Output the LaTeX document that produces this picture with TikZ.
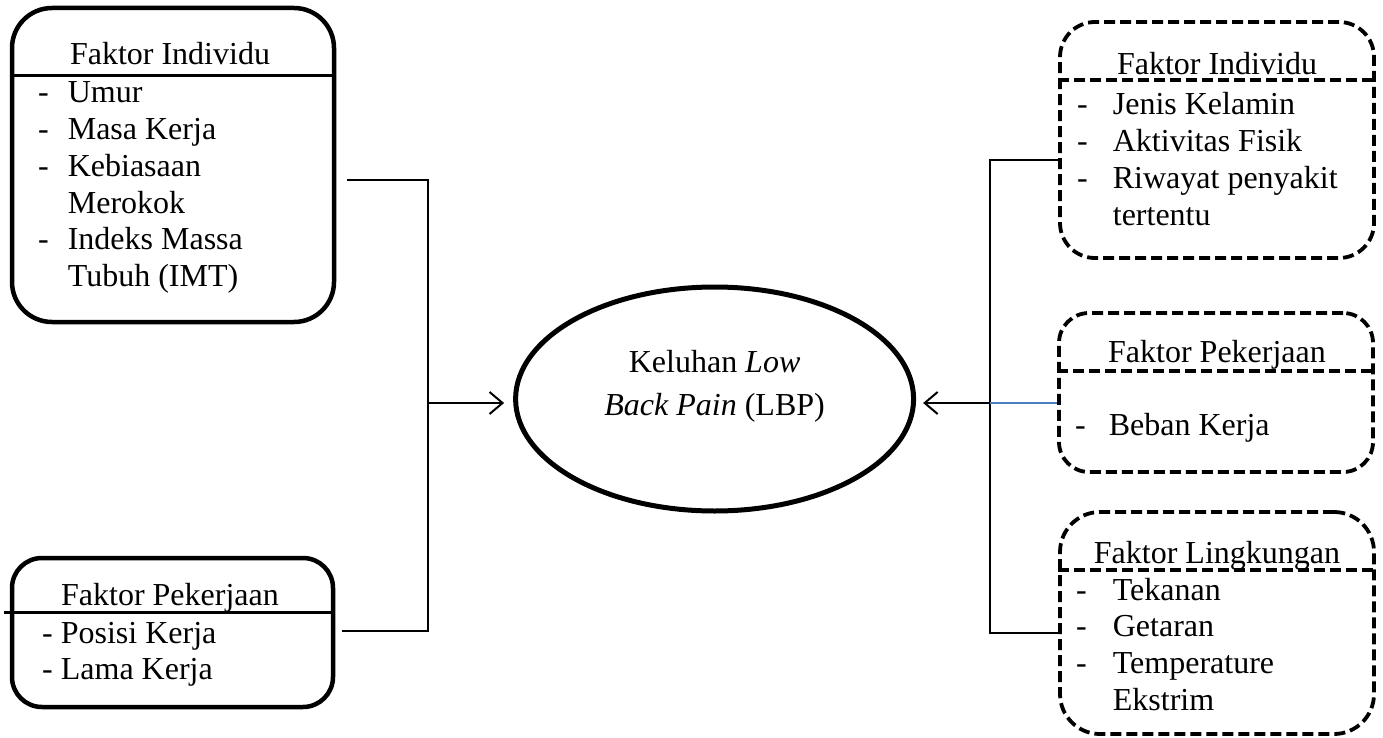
\documentclass[tikz,border=0pt]{standalone}
\usepackage{fontspec}
\setmainfont{Liberation Serif}
\usetikzlibrary{arrows.meta,shapes.geometric}

\tikzset{
  txt/.style={inner sep=0pt, font=\fontsize{32}{36.7}\selectfont},
  solidbox/.style={draw, line width=4.5pt, rounded corners=#1, inner sep=0pt},
  solidbox/.default=40pt,
  dashbox/.style={draw, line width=3.8pt, dash pattern=on 11pt off 5pt, rounded corners=#1, inner sep=0pt},
  dashbox/.default=35pt,
  solidsep/.style={line width=3pt},
  dashsep/.style={line width=3.6pt, dash pattern=on 11pt off 5pt},
  conn/.style={line width=2pt},
  bluelink/.style={line width=1.6pt, draw={rgb,255:red,74;green,126;blue,187}},
  arr/.style={conn, -{Straight Barb[length=13pt,width=22pt,line width=2pt]}},
}

\begin{document}
\begin{tikzpicture}[x=1pt,y=-1pt]
\useasboundingbox (0,0) rectangle (1383,738);

% ---- left column: solid boxes ----
\node[solidbox=40pt, minimum width=322pt, minimum height=314pt] (ind) at (173,165) {};
\node[solidbox=30pt, minimum width=321pt, minimum height=149pt] (pek) at (172.5,632.5) {};

\coordinate (s1) at (0,76);
\coordinate (s2) at (0,612);
\draw[solidsep] (ind.west |- s1) -- (ind.east |- s1);
\draw[solidsep] ([xshift=-6pt]pek.west |- s2) -- (pek.east |- s2);

\node[txt, anchor=base] (indt) at (170,65) {Faktor Individu};
\node[txt, anchor=base west] (indl) at (38,103)
  {\begin{tabular}[t]{@{}l@{\hspace{19pt}}l@{}}
   - & Umur\\
   - & Masa Kerja\\
   - & Kebiasaan\\
     & Merokok\\
   - & Indeks Massa\\
     & Tubuh (IMT)
   \end{tabular}};

\node[txt, anchor=base] (pekt) at (170,605) {Faktor Pekerjaan};
\node[txt, anchor=base west] (pekl) at (42,643)
  {\begin{tabular}[t]{@{}l@{}}
   - Posisi Kerja\\
   - Lama Kerja
   \end{tabular}};

% ---- centre ----
\node[draw, ellipse, line width=5pt, minimum width=398pt, minimum height=224pt] (lbp) at (714.6,399) {};
\node[inner sep=0pt, font=\fontsize{32}{43}\selectfont, align=center, anchor=north] (lbpt) at (714.6,350)
  {Keluhan \textit{Low}\\ \textit{Back Pain} (LBP)};

% ---- right column: dashed boxes ----
\node[dashbox=35pt, minimum width=314pt, minimum height=236pt] (ri) at (1217,140) {};
\node[dashbox=30pt, minimum width=314pt, minimum height=159pt] (rp) at (1216,392.5) {};
\node[dashbox=40pt, minimum width=314pt, minimum height=222pt] (rl) at (1217,623) {};

\coordinate (s3) at (0,80);
\coordinate (s4) at (0,371);
\coordinate (s5) at (0,570);
\draw[dashsep] (ri.west |- s3) -- (ri.east |- s3);
\draw[dashsep] (rp.west |- s4) -- (rp.east |- s4);
\draw[dashsep] (rl.west |- s5) -- (rl.east |- s5);

\node[txt, anchor=base] (rit) at (1217,75) {Faktor Individu};
\node[txt, anchor=base west] (ril) at (1077,115)
  {\begin{tabular}[t]{@{}l@{\hspace{25pt}}l@{}}
   - & Jenis Kelamin\\
   - & Aktivitas Fisik\\
   - & Riwayat penyakit\\
     & tertentu
   \end{tabular}};

\node[txt, anchor=base] (rpt) at (1217,362) {Faktor Pekerjaan};
\node[txt, anchor=base west] (rpl) at (1075,435)
  {\begin{tabular}[t]{@{}l@{\hspace{23pt}}l@{}}
   - & Beban Kerja
   \end{tabular}};

\node[txt, anchor=base] (rlt) at (1217,563) {Faktor Lingkungan};
\node[txt, anchor=base west] (rll) at (1076,600)
  {\begin{tabular}[t]{@{}l@{\hspace{26pt}}l@{}}
   - & Tekanan\\
   - & Getaran\\
   - & Temperature\\
     & Ekstrim
   \end{tabular}};

% ---- connectors ----
\coordinate (jl) at (428,403);
\coordinate (jr) at (990,403);

\draw[conn] ([xshift=11pt,yshift=-15pt]ind.east) -| (jl);
\draw[conn] ([xshift=7pt,yshift=1.5pt]pek.east) -| (jl);
\draw[arr, shorten >=9pt] (jl) -- (jl -| lbp.west);

\draw[conn] ([yshift=-20pt]ri.west) -| (jr);
\draw[conn] ([yshift=-10pt]rl.west) -| (jr);
\draw[bluelink] ([yshift=-10.5pt]rp.west) -- (jr);
\draw[arr, shorten >=7pt] (jr) -- (jr -| lbp.east);

\end{tikzpicture}
\end{document}
